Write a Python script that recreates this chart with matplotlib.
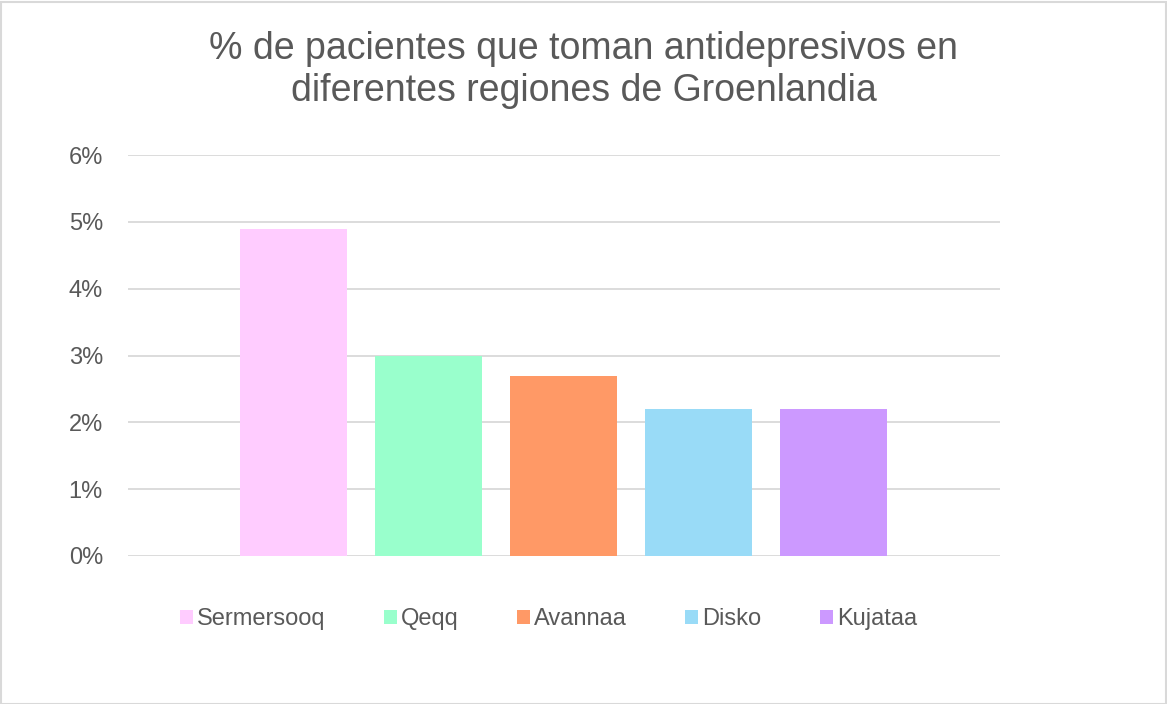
import matplotlib
matplotlib.use("Agg")
import matplotlib.pyplot as plt
from matplotlib.patches import Rectangle
from matplotlib.ticker import FuncFormatter

plt.rcParams['font.family'] = ['Liberation Sans', 'DejaVu Sans']

title = "% de pacientes que toman antidepresivos en\ndiferentes regiones de Groenlandia"
regions = ["Sermersooq", "Qeqq", "Avannaa", "Disko", "Kujataa"]
values = [4.9, 3.0, 2.7, 2.2, 2.2]
colors = ["#FFCCFF", "#99FFCC", "#FF9966", "#99DBF7", "#CC99FF"]
yticks = [0, 1, 2, 3, 4, 5, 6]

text_color = "#595959"
grid_color = "#D9D9D9"

W, H = 1167, 704
fig = plt.figure(figsize=(W/100, H/100), dpi=100)
ax = fig.add_axes([128/W, 1-556/H, (1000-128)/W, (556-155)/H])

handles = []
for i, (r, v, c) in enumerate(zip(regions, values, colors)):
    h = ax.bar(i, v, width=0.79, color=c, label=r, zorder=2)
    handles.append(h)

ax.set_xlim(-1.226, 5.233)
ax.set_ylim(0, 6)
ax.set_yticks(yticks)
ax.yaxis.set_major_formatter(FuncFormatter(lambda v, p: f"{int(v)}%"))
ax.set_xticks([])
ax.tick_params(axis='y', length=0, pad=18, labelsize=17, labelcolor=text_color)
for s in ax.spines.values():
    s.set_visible(False)
ax.grid(axis='y', color=grid_color, linewidth=1.3, zorder=0)
ax.set_axisbelow(True)

fig.text(0.5, 1-70/H, title, ha='center', va='center', fontsize=27,
         color=text_color, linespacing=1.2)

leg = fig.legend(handles=handles, labels=regions, loc='center left',
                 bbox_to_anchor=(180/W, 1-619/H), ncol=5, frameon=False,
                 fontsize=17, handlelength=0.55, handleheight=0.55,
                 handletextpad=0.18, columnspacing=2.46, labelcolor=text_color,
                 borderpad=0, borderaxespad=0)

fig.patches.append(Rectangle((0.5/W, 0.5/H), 1-2/W, 1-2/H, transform=fig.transFigure,
                             fill=False, edgecolor=grid_color, linewidth=1.5))

fig.savefig("out.png", dpi=100, facecolor="white")
